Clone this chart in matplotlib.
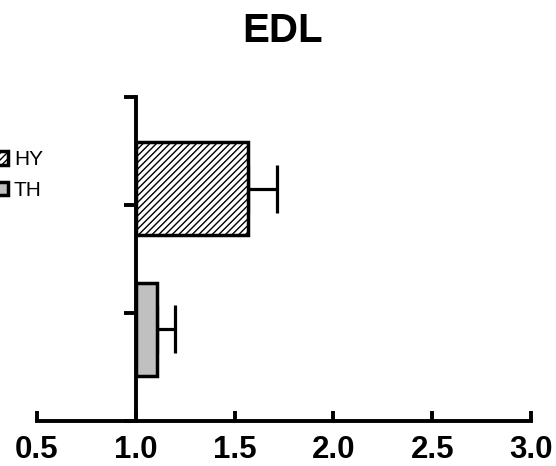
import numpy as np
from matplotlib import pyplot as plt

plt.rcParams['font.family'] = ['Liberation Sans', 'DejaVu Sans']
plt.rcParams['hatch.linewidth'] = 1.0

groups = ['HY', 'TH']
means = [1.567, 1.106]
errors = [0.147, 0.094]
positions = [2.15, 0.85]
faces = ['white', '#c0c0c0']
hatches = ['/////', '']
baseline = 1.0

fig = plt.figure(figsize=(5.56, 4.66), dpi=100)
ax = fig.add_axes([37 / 556, 1 - 421 / 466, (531 - 37) / 556, (421 - 97) / 466])

for name, m, e, p, fc, h in zip(groups, means, errors, positions, faces, hatches):
	ax.barh(p, m - baseline, left=baseline, height=0.86, color=fc, edgecolor='black',
			linewidth=2.5, hatch=h, label=name, zorder=2)
	ax.errorbar(m, p, xerr=[[0], [e]], fmt='none', ecolor='black', elinewidth=2.3,
				capsize=17, capthick=2.3, zorder=1)

ax.set_xlim(0.5, 3.0)
ax.set_ylim(0, 3)
ax.set_xticks(np.arange(0.5, 3.01, 0.5))
ax.set_xticklabels(['%.1f' % v for v in np.arange(0.5, 3.01, 0.5)], fontsize=22.5, fontweight='bold')
ax.set_yticks([0, 1, 2, 3])
ax.set_yticklabels([])

for s in ['top', 'right']:
	ax.spines[s].set_visible(False)
ax.spines['left'].set_position(('data', baseline))
ax.spines['left'].set_linewidth(2.8)
ax.spines['bottom'].set_linewidth(2.8)
ax.tick_params(axis='x', direction='in', length=7, width=2.8, pad=10)
ax.tick_params(axis='y', direction='out', length=9, width=2.8)

fig.text(283 / 556, 1 - 31 / 466, 'EDL', fontsize=29, fontweight='bold', ha='center', va='center')

handles, labels = ax.get_legend_handles_labels()
fig.legend(handles, labels, loc='center left', bbox_to_anchor=(-5 / 556, 1 - 175 / 466),
		   bbox_transform=fig.transFigure, frameon=False, fontsize=15, borderpad=0,
		   borderaxespad=0, handlelength=0.6, handleheight=0.6, handletextpad=0.3,
		   labelspacing=0.55)

fig.savefig('out.png', dpi=100)
